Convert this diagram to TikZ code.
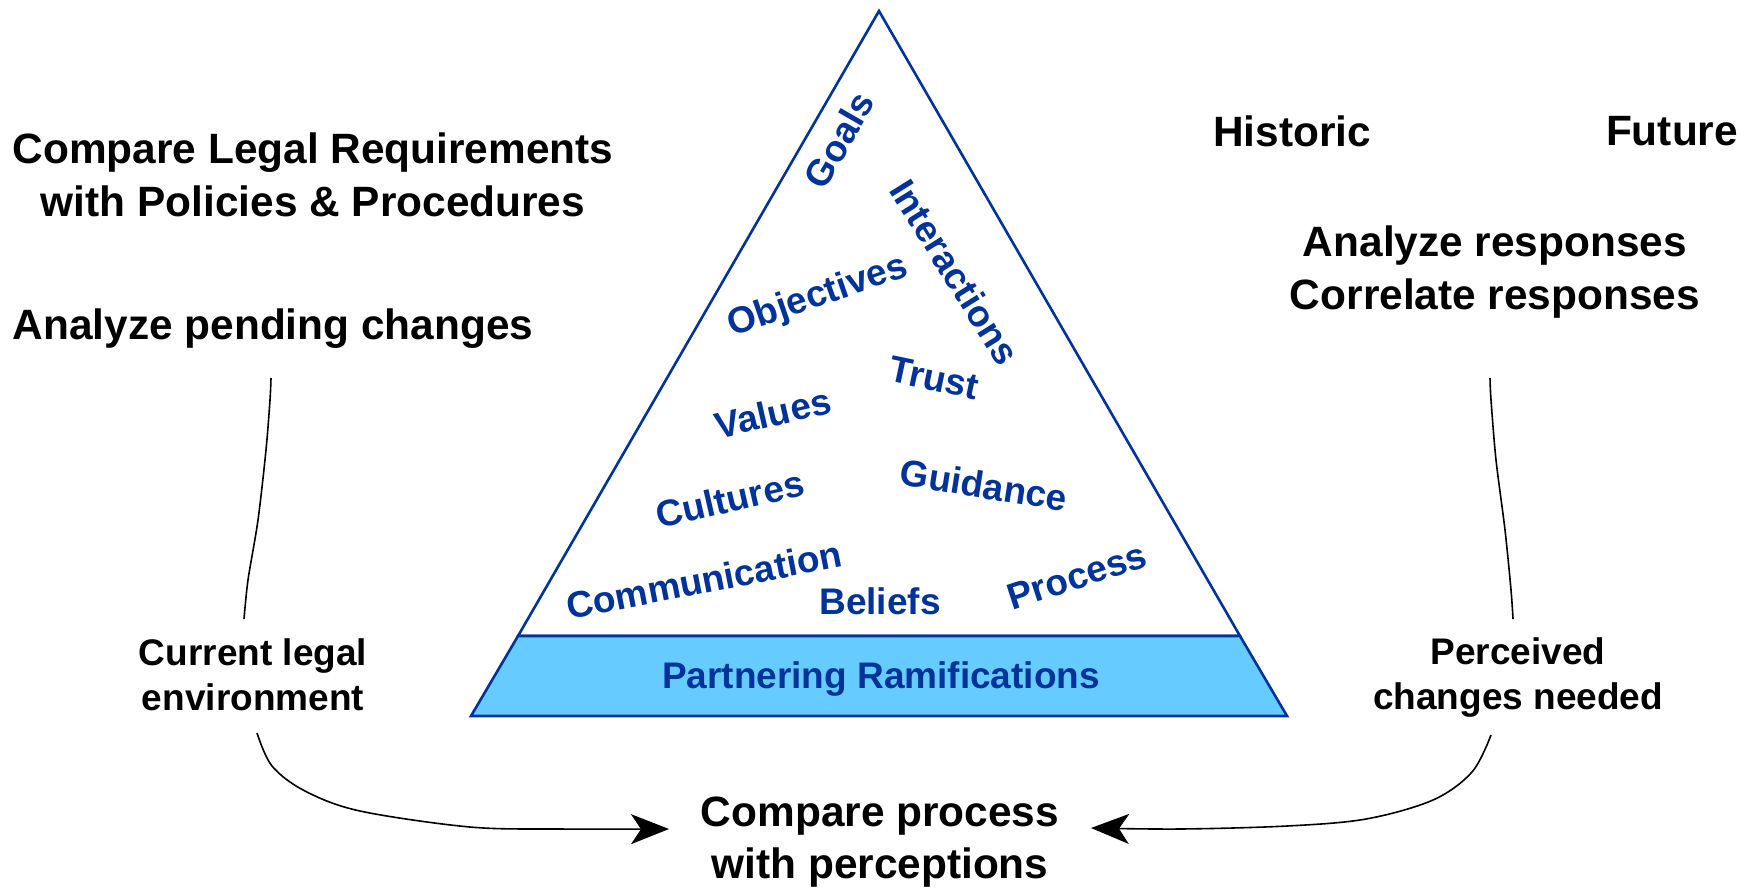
\documentclass[tikz,border=0pt]{standalone}
\usepackage{fontspec}
\setmainfont{Liberation Sans}
\usetikzlibrary{arrows.meta}
\definecolor{pblue}{RGB}{0,51,153}
\definecolor{band}{RGB}{102,204,255}
\tikzset{
  bigtxt/.style={font=\fontsize{21.2pt}{26.3pt}\selectfont\bfseries, align=center, inner sep=0pt},
  smalltxt/.style={font=\fontsize{18.5pt}{22.5pt}\selectfont\bfseries, align=center, inner sep=0pt},
  word/.style={font=\fontsize{18.5pt}{22pt}\selectfont\bfseries, text=pblue, inner sep=0pt},
  tri/.style={draw=pblue, line width=1.3pt, line join=miter},
  conn/.style={draw=black, line width=0.8pt},
  arr/.style={conn, -{Stealth[length=19pt, width=15pt, inset=5pt]}},
}
\begin{document}
\begin{tikzpicture}[x=0.5pt, y=-0.5pt]
\useasboundingbox (0,0) rectangle (1755,890);
% pyramid
\coordinate (A) at (879,11);
\coordinate (BL) at (518,636);
\coordinate (BR) at (1240,636);
\coordinate (BaseL) at (471,716);
\coordinate (BaseR) at (1287,716);
\draw[tri] (A) -- (BL) -- (BR) -- cycle;
\draw[tri, fill=band] (BL) -- (BR) -- (BaseR) -- (BaseL) -- cycle;
\node[word] (pr) at (881,679) {Partnering Ramifications};
% words
\node[word, rotate=60] (goals) at (839,140) {Goals};
\node[word, rotate=-58] (inter) at (955,272) {Interactions};
\node[word, rotate=19] (obj) at (818,297) {Objectives};
\node[word, rotate=-12] (trust) at (934,378) {Trust};
\node[word, rotate=13] (val) at (773,413) {Values};
\node[word, rotate=13] (cult) at (730,499) {Cultures};
\node[word, rotate=-9] (guid) at (984,485) {Guidance};
\node[word, rotate=11] (comm) at (704,580) {Communication};
\node[word] (bel) at (880,601) {Beliefs};
\node[word, rotate=18] (proc) at (1077,576) {Process};
% black texts
\node[bigtxt] (clr) at (313,175) {Compare Legal Requirements\\with Policies \& Procedures};
\node[bigtxt] (apc) at (273,329) {Analyze pending changes};
\node[bigtxt] (hist) at (1292,131) {Historic};
\node[bigtxt] (fut) at (1672,131) {Future};
\node[bigtxt] (ar) at (1495,272) {Analyze responses\\Correlate responses};
\node[bigtxt] (cpp) at (880,842) {Compare process\\with perceptions};
\node[smalltxt] (cle) at (253,675) {Current legal\\environment};
\node[smalltxt] (pcn) at (1518,677) {Perceived\\changes needed};
% connectors
\coordinate (l0) at (271,378);
\coordinate (l1) at (244,619);
\coordinate (r0) at (1490,378);
\coordinate (r1) at (1513,619);
\draw[conn] plot[smooth, tension=0.5] coordinates {(l0) (270,400) (266,450) (258,520) (248,580) (l1)};
\draw[conn] plot[smooth, tension=0.5] coordinates {(r0) (1491,400) (1496,460) (1505,530) (1511,590) (r1)};
\coordinate (l2) at (257,733);
\coordinate (r2) at (1491,735);
\draw[arr] plot[smooth, tension=0.55] coordinates {(l2) (272,766) (305,791) (360,811) (470,827) (560,829) (669,829)};
\draw[arr] plot[smooth, tension=0.55] coordinates {(r2) (1472,772) (1433,800) (1366,819) (1287,826) (1180,829) (1091,828)};
\end{tikzpicture}
\end{document}
